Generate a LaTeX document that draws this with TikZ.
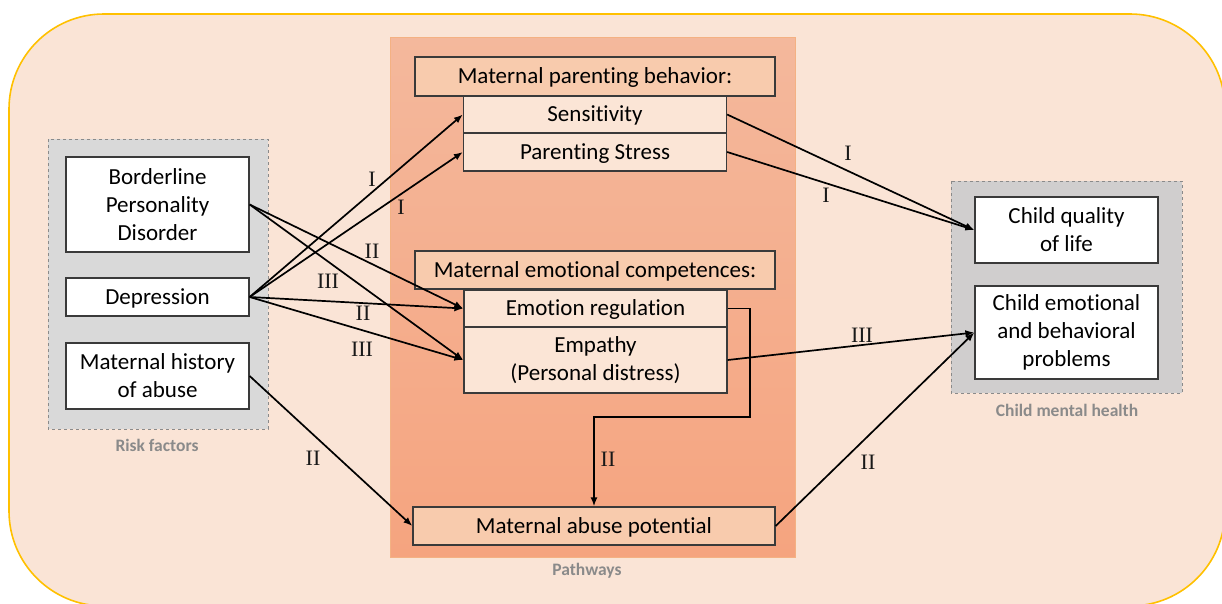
\documentclass[tikz,border=0pt]{standalone}
\usepackage{fontspec}
\setmainfont{Carlito}[Ligatures=NoCommon]
\newfontfamily\numfont{Liberation Serif}
\usetikzlibrary{arrows.meta}

\definecolor{bgfill}{HTML}{FAE4D6}
\definecolor{rimyellow}{HTML}{FFC000}
\definecolor{pathtop}{HTML}{F4B89C}
\definecolor{pathbot}{HTML}{F5A47F}
\definecolor{pathrim}{HTML}{F4B183}
\definecolor{headfill}{HTML}{F8CBAD}
\definecolor{itemfill}{HTML}{FBE5D6}
\definecolor{grouprisk}{HTML}{D9D9D9}
\definecolor{grouphealth}{HTML}{D0CECE}
\definecolor{captiongray}{HTML}{8A8A8A}
\definecolor{boxrim}{HTML}{3A3A3A}

\tikzset{
  box/.style={draw=boxrim, line width=1.3pt, inner sep=0pt, align=center,
    font=\fontsize{23}{28}\selectfont, text=black},
  oneline/.style={text height=14.8pt, text depth=0pt},
  whitebox/.style={box, fill=white},
  headbox/.style={box, fill=headfill},
  itembox/.style={box, fill=itemfill},
  group/.style={draw=captiongray, dashed, line width=0.9pt},
  caption/.style={font=\bfseries\fontsize{17.5}{20}\selectfont, text=captiongray},
  conn/.style={draw=black, line width=1.7pt, -{Latex[length=9pt,width=7pt]}},
  path label/.style={font=\numfont\fontsize{22}{22}\selectfont, inner sep=0pt, text=black!90}
}

\begin{document}
\begin{tikzpicture}[x=1pt,y=-1pt]
\useasboundingbox (0,0) rectangle (1222,603);

% outer rounded frame, running past the page edge on the right and bottom
\begin{scope}
  \clip (0,0) rectangle (1222,603);
  \path[fill=bgfill, draw=rimyellow, line width=1.6pt, rounded corners=95pt]
    (9,14) rectangle (1225,606);
\end{scope}

% group panels
\fill[grouprisk] (48,139) rectangle (268,429);
\draw[group] (48,139) rectangle (268,429);
\fill[grouphealth] (951,181) rectangle (1182,393);
\draw[group] (951,181) rectangle (1182,393);
\shade[top color=pathtop, bottom color=pathbot] (390,37) rectangle (795,557);
\draw[pathrim, line width=0.8pt] (390,37) rectangle (795,557);

% captions
\node[caption] (capRisk) at (157,445) {Risk factors};
\node[caption] (capPath) at (587,571) {Pathways};
\node[caption] (capHealth) at (1067,410) {Child mental health};

% risk factors
\node[whitebox, minimum width=183pt, minimum height=95pt] (bpd) at (157.5,204.5)
  {Borderline\\Personality\\Disorder};
\node[whitebox, oneline, minimum width=183pt, minimum height=38pt] (dep) at (157.5,297) {Depression};
\node[whitebox, minimum width=183pt, minimum height=66pt] (hist) at (157.5,376)
  {Maternal history\\of abuse};

% pathways
\node[headbox, oneline, minimum width=360pt, minimum height=39pt] (headA) at (595,76.5)
  {Maternal parenting behavior:};
\node[itembox, oneline, minimum width=263pt, minimum height=37pt] (sens) at (595,114.5) {Sensitivity};
\node[itembox, oneline, minimum width=263pt, minimum height=38pt] (stress) at (595,152) {Parenting Stress};
\node[headbox, oneline, minimum width=360pt, minimum height=38pt] (headB) at (595,270)
  {Maternal emotional competences:};
\node[itembox, oneline, minimum width=263pt, minimum height=37pt] (emoreg) at (595.5,308.5) {Emotion regulation};
\node[itembox, minimum width=263pt, minimum height=66pt] (empathy) at (595.5,360)
  {Empathy\\(Personal distress)};
\node[headbox, oneline, minimum width=362pt, minimum height=38pt] (abuse) at (594,526)
  {Maternal abuse potential};

% child outcomes
\node[whitebox, minimum width=183pt, minimum height=66pt] (qol) at (1066.5,230)
  {Child quality\\of life};
\node[whitebox, minimum width=183pt, minimum height=93pt] (prob) at (1066.5,332.5)
  {Child emotional\\and behavioral\\problems};

% connectors
\draw[conn] (dep.east) -- (sens.west);
\draw[conn] (dep.east) -- (stress.west);
\draw[conn] (bpd.east) -- (emoreg.west);
\draw[conn] (bpd.east) -- (empathy.west);
\draw[conn] (dep.east) -- (emoreg.west);
\draw[conn] (dep.east) -- (empathy.west);
\draw[conn] (hist.east) -- (abuse.west);
\draw[conn] (sens.east) -- (qol.west);
\draw[conn] (stress.east) -- (qol.west);
\draw[conn] (empathy.east) -- (prob.west);
\draw[conn] (abuse.east) -- (prob.west);
\draw[conn] (emoreg.east) -- ++(22,0) |- (abuse.north |- 0,417) -- (abuse.north);

% pathway labels
\node[path label] (l1) at (372,179) {I};
\node[path label] (l2) at (401,207) {I};
\node[path label] (l3) at (372,251) {II};
\node[path label] (l4) at (328,281) {III};
\node[path label] (l5) at (363,313) {II};
\node[path label] (l6) at (362,349) {III};
\node[path label] (l7) at (313,458) {II};
\node[path label] (l8) at (608,459) {II};
\node[path label] (l9) at (848,153) {I};
\node[path label] (l10) at (826,195) {I};
\node[path label] (l11) at (862,335) {III};
\node[path label] (l12) at (868,462) {II};
\end{tikzpicture}
\end{document}
